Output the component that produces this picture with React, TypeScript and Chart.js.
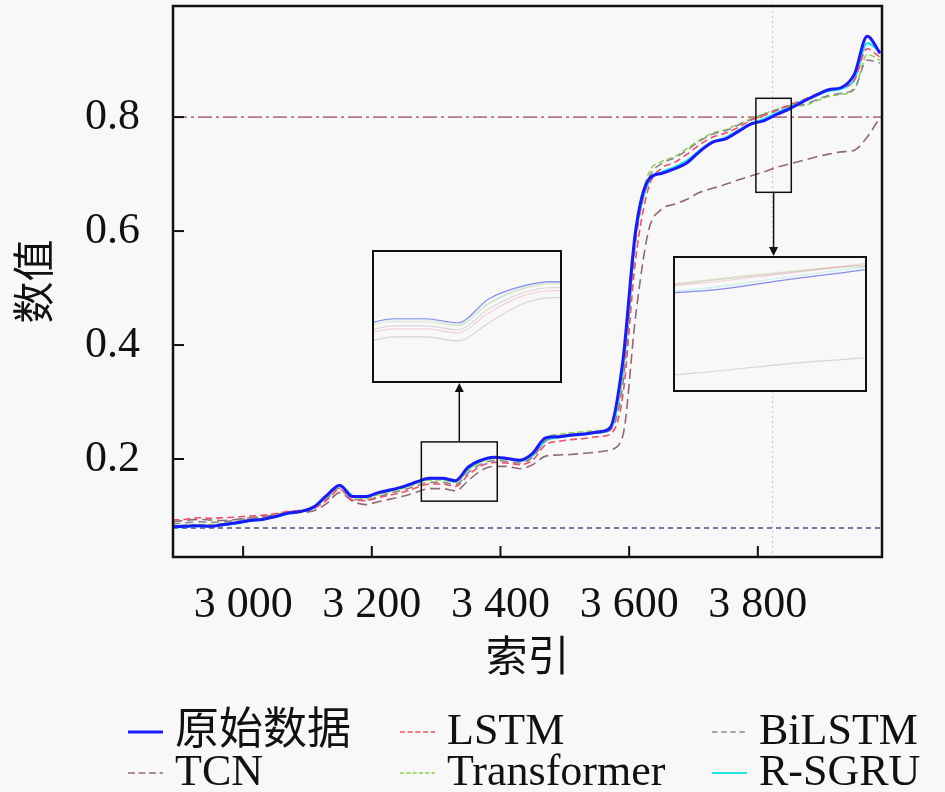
import React, { useEffect, useRef } from 'react';
import { Chart, registerables } from 'chart.js';

Chart.register(...registerables);

// 索引 (sample index), every 20 steps
const indices = [
  2890, 2910, 2930, 2950, 2970, 2990, 3010, 3030, 3050, 3070,
  3090, 3110, 3130, 3150, 3170, 3190, 3210, 3230, 3250, 3270,
  3290, 3310, 3330, 3350, 3370, 3390, 3410, 3430, 3450, 3470,
  3490, 3510, 3530, 3550, 3570, 3590, 3610, 3630, 3650, 3670,
  3690, 3710, 3730, 3750, 3770, 3790, 3810, 3830, 3850, 3870,
  3890, 3910, 3930, 3950, 3970, 3990,
];

const original = [
  0.081, 0.082, 0.083, 0.082, 0.085, 0.088, 0.092, 0.094, 0.099, 0.105,
  0.108, 0.116, 0.136, 0.154, 0.134, 0.134, 0.141, 0.146, 0.152, 0.160,
  0.166, 0.166, 0.162, 0.186, 0.198, 0.203, 0.201, 0.198, 0.210, 0.237,
  0.239, 0.242, 0.244, 0.247, 0.254, 0.370, 0.600, 0.690, 0.701, 0.709,
  0.720, 0.740, 0.756, 0.762, 0.775, 0.788, 0.794, 0.805, 0.815, 0.827,
  0.838, 0.848, 0.852, 0.875, 0.942, 0.912,
];

const lstm = [
  0.093, 0.094, 0.097, 0.096, 0.097, 0.098, 0.100, 0.101, 0.104, 0.108,
  0.110, 0.113, 0.128, 0.147, 0.128, 0.127, 0.132, 0.137, 0.142, 0.150,
  0.156, 0.156, 0.152, 0.172, 0.188, 0.194, 0.193, 0.190, 0.198, 0.225,
  0.231, 0.234, 0.236, 0.239, 0.243, 0.310, 0.550, 0.675, 0.710, 0.720,
  0.735, 0.752, 0.765, 0.772, 0.782, 0.795, 0.803, 0.812, 0.822, 0.830,
  0.840, 0.848, 0.852, 0.865, 0.920, 0.905,
];

const bilstm = [
  0.086, 0.088, 0.090, 0.089, 0.090, 0.093, 0.096, 0.098, 0.102, 0.107,
  0.109, 0.114, 0.130, 0.149, 0.130, 0.128, 0.134, 0.140, 0.146, 0.153,
  0.159, 0.159, 0.155, 0.176, 0.191, 0.197, 0.196, 0.193, 0.203, 0.232,
  0.238, 0.241, 0.243, 0.246, 0.250, 0.330, 0.580, 0.690, 0.718, 0.728,
  0.742, 0.758, 0.770, 0.776, 0.786, 0.796, 0.805, 0.813, 0.820, 0.822,
  0.830, 0.838, 0.842, 0.850, 0.900, 0.895,
];

const tcn = [
  0.090, 0.092, 0.094, 0.093, 0.092, 0.094, 0.097, 0.099, 0.102, 0.104,
  0.106, 0.109, 0.122, 0.141, 0.126, 0.120, 0.125, 0.130, 0.135, 0.142,
  0.148, 0.148, 0.144, 0.162, 0.180, 0.187, 0.187, 0.183, 0.190, 0.205,
  0.207, 0.208, 0.210, 0.212, 0.216, 0.240, 0.450, 0.600, 0.638, 0.647,
  0.656, 0.668, 0.675, 0.682, 0.690, 0.697, 0.704, 0.712, 0.718, 0.724,
  0.730, 0.735, 0.739, 0.742, 0.765, 0.800,
];

const transformer = [
  0.083, 0.084, 0.085, 0.085, 0.087, 0.090, 0.094, 0.097, 0.101, 0.107,
  0.110, 0.117, 0.134, 0.153, 0.134, 0.131, 0.137, 0.143, 0.149, 0.157,
  0.163, 0.163, 0.159, 0.181, 0.195, 0.201, 0.200, 0.197, 0.207, 0.238,
  0.243, 0.246, 0.248, 0.250, 0.256, 0.350, 0.600, 0.700, 0.722, 0.730,
  0.745, 0.760, 0.772, 0.778, 0.788, 0.797, 0.806, 0.814, 0.820, 0.820,
  0.828, 0.836, 0.840, 0.848, 0.910, 0.900,
];

const rsgru = [
  0.080, 0.081, 0.082, 0.082, 0.084, 0.087, 0.091, 0.094, 0.098, 0.104,
  0.108, 0.115, 0.134, 0.153, 0.136, 0.133, 0.140, 0.145, 0.151, 0.159,
  0.165, 0.165, 0.160, 0.182, 0.196, 0.202, 0.201, 0.197, 0.206, 0.232,
  0.238, 0.241, 0.243, 0.246, 0.251, 0.350, 0.590, 0.685, 0.703, 0.712,
  0.724, 0.742, 0.757, 0.764, 0.777, 0.789, 0.797, 0.808, 0.818, 0.829,
  0.838, 0.846, 0.850, 0.865, 0.930, 0.915,
];

const xTicks = [3000, 3200, 3400, 3600, 3800];
const xTickLabels = ['3 000', '3 200', '3 400', '3 600', '3 800'];
const yTicks = [0.2, 0.4, 0.6, 0.8];
const yTickLabels = ['0.2', '0.4', '0.6', '0.8'];

const xRange = [2891, 3993];
const yRange = [0.028, 0.995];

// reference lines seen across the plot
const upperLevel = [0.8, 0.8];
const lowerLevel = [0.079, 0.079];
const markerIndex = 3823;

// zoomed windows: [x0, x1, y0, y1]
const zoomA = [3277, 3395, 0.126, 0.23];
const zoomB = [3797, 3852, 0.668, 0.833];
const insetAView = [3277, 3395, 0.104, 0.2325];
const insetBView = [3798, 3852, 0.683, 0.829];

const FONT = '"Liberation Serif", "Noto Sans CJK SC", serif';
const BG = '#f8f8f8';

const insetABox = { left: 372, top: 250, width: 190, height: 133 };
const insetBBox = { left: 673, top: 256, width: 194, height: 136 };

const seriesDefs = [
  { label: '原始数据', data: original, color: '#1a1aff', width: 3, dash: [] as number[], faint: 'rgba(90,90,230,0.7)' },
  { label: 'LSTM', data: lstm, color: '#ee4f6c', width: 1.6, dash: [7, 4], faint: 'rgba(230,120,140,0.3)' },
  { label: 'BiLSTM', data: bilstm, color: '#8a8a8a', width: 1.6, dash: [8, 5], faint: 'rgba(150,150,150,0.3)' },
  { label: 'TCN', data: tcn, color: '#8f6a72', width: 1.6, dash: [10, 5], faint: 'rgba(150,130,135,0.3)' },
  { label: 'Transformer', data: transformer, color: '#8fd14f', width: 1.5, dash: [6, 3], faint: 'rgba(190,200,120,0.35)' },
  { label: 'R-SGRU', data: rsgru, color: '#22e6e6', width: 2.2, dash: [] as number[], faint: 'rgba(120,220,220,0.35)' },
];

const toPoints = (vals: number[]) => indices.map((x, i) => ({ x, y: vals[i] }));

const legendCols = [128, 400, 712];
const legendRows = [732, 773];

const arrow = (ctx: CanvasRenderingContext2D, x: number, y0: number, y1: number) => {
  const dir = y1 > y0 ? 1 : -1;
  ctx.beginPath();
  ctx.moveTo(x, y0);
  ctx.lineTo(x, y1 - dir * 7);
  ctx.stroke();
  ctx.beginPath();
  ctx.moveTo(x, y1);
  ctx.lineTo(x - 4.5, y1 - dir * 9);
  ctx.lineTo(x + 4.5, y1 - dir * 9);
  ctx.closePath();
  ctx.fill();
};

const decorPlugin = {
  id: 'decor',
  beforeDatasetsDraw(chart: any) {
    const { ctx, chartArea: a, scales } = chart;
    const px = scales.x.getPixelForValue(markerIndex);
    ctx.save();
    ctx.strokeStyle = '#c4c4c4';
    ctx.lineWidth = 1;
    ctx.setLineDash([2, 3]);
    ctx.beginPath();
    ctx.moveTo(px, a.top);
    ctx.lineTo(px, a.bottom);
    ctx.stroke();
    ctx.restore();
  },
  afterDraw(chart: any) {
    const { ctx, chartArea: a, scales } = chart;
    const { x, y } = scales;
    ctx.save();
    ctx.strokeStyle = '#111';
    ctx.fillStyle = '#111';
    ctx.lineWidth = 2.5;
    ctx.strokeRect(a.left, a.top, a.right - a.left, a.bottom - a.top);

    ctx.lineWidth = 2;
    xTicks.forEach((v) => {
      const p = x.getPixelForValue(v);
      ctx.beginPath();
      ctx.moveTo(p, a.bottom);
      ctx.lineTo(p, a.bottom - 11);
      ctx.stroke();
    });
    yTicks.forEach((v) => {
      const p = y.getPixelForValue(v);
      ctx.beginPath();
      ctx.moveTo(a.left, p);
      ctx.lineTo(a.left + 11, p);
      ctx.stroke();
    });

    // source rectangles of the two insets
    ctx.lineWidth = 1.5;
    const boxes = [zoomA, zoomB].map((z) => {
      const l = x.getPixelForValue(z[0]);
      const r = x.getPixelForValue(z[1]);
      const t = y.getPixelForValue(z[3]);
      const b = y.getPixelForValue(z[2]);
      ctx.strokeRect(l, t, r - l, b - t);
      return { cx: (l + r) / 2, t, b };
    });
    arrow(ctx, boxes[0].cx, boxes[0].t, insetABox.top + insetABox.height);
    arrow(ctx, boxes[1].cx, boxes[1].b, insetBBox.top);

    // legend
    ctx.font = `44px ${FONT}`;
    ctx.textBaseline = 'middle';
    ctx.textAlign = 'left';
    seriesDefs.forEach((s, i) => {
      const lx = legendCols[i % 3];
      const ly = legendRows[Math.floor(i / 3)];
      ctx.save();
      ctx.strokeStyle = s.color;
      ctx.lineWidth = s.width;
      ctx.setLineDash(s.dash.map((d) => d * 0.7));
      ctx.beginPath();
      ctx.moveTo(lx, ly);
      ctx.lineTo(lx + 35, ly);
      ctx.stroke();
      ctx.restore();
      ctx.fillStyle = '#111';
      ctx.fillText(s.label, lx + 47, ly);
    });
    ctx.restore();
  },
};

const insetFrame = (box: { left: number; top: number; width: number; height: number }) => ({
  position: 'absolute' as const,
  left: box.left,
  top: box.top,
  width: box.width,
  height: box.height,
  border: '2px solid #111',
  boxSizing: 'border-box' as const,
  background: BG,
});

const makeInset = (canvas: HTMLCanvasElement, view: number[]) =>
  new Chart(canvas, {
    type: 'line',
    data: {
      datasets: seriesDefs.map((s) => ({
        data: toPoints(s.data),
        borderColor: s.faint,
        borderWidth: 1.2,
        pointRadius: 0,
        cubicInterpolationMode: 'monotone' as const,
      })),
    },
    options: {
      animation: false,
      responsive: true,
      maintainAspectRatio: false,
      events: [],
      layout: { padding: 0 },
      plugins: { legend: { display: false }, tooltip: { enabled: false } },
      scales: {
        x: { type: 'linear', min: view[0], max: view[1], display: false },
        y: { type: 'linear', min: view[2], max: view[3], display: false },
      },
    },
  });

const App = () => {
  const mainRef = useRef<HTMLCanvasElement>(null);
  const insetARef = useRef<HTMLCanvasElement>(null);
  const insetBRef = useRef<HTMLCanvasElement>(null);

  useEffect(() => {
    const datasets: any[] = seriesDefs.map((s) => ({
      label: s.label,
      data: toPoints(s.data),
      borderColor: s.color,
      borderWidth: s.width,
      borderDash: s.dash,
      pointRadius: 0,
      cubicInterpolationMode: 'monotone',
    }));
    datasets.push(
      {
        label: 'upper',
        data: xRange.map((x, i) => ({ x, y: upperLevel[i] })),
        borderColor: '#b57888',
        borderWidth: 1.6,
        borderDash: [14, 4, 3, 4],
        pointRadius: 0,
      },
      {
        label: 'lower',
        data: xRange.map((x, i) => ({ x, y: lowerLevel[i] })),
        borderColor: '#4d4d80',
        borderWidth: 1.6,
        borderDash: [5, 4],
        pointRadius: 0,
      },
    );

    const tickFont = { family: FONT, size: 44 };
    const titleFont = { family: FONT, size: 42 };

    const chart = new Chart(mainRef.current!, {
      type: 'line',
      data: { datasets },
      options: {
        animation: false,
        responsive: true,
        maintainAspectRatio: false,
        events: [],
        layout: { padding: { left: 0, right: 63, top: 6, bottom: 105 } },
        plugins: { legend: { display: false }, tooltip: { enabled: false } },
        scales: {
          x: {
            type: 'linear',
            min: xRange[0],
            max: xRange[1],
            grid: { display: false, drawTicks: false },
            border: { display: false },
            afterBuildTicks: (s: any) => {
              s.ticks = xTicks.map((v) => ({ value: v }));
            },
            afterFit: (s: any) => {
              s.height = 130;
              s.paddingLeft = 0;
              s.paddingRight = 0;
            },
            ticks: {
              autoSkip: false,
              maxRotation: 0,
              padding: 22,
              color: '#111',
              font: tickFont,
              callback: (v: any) => xTickLabels[xTicks.indexOf(Number(v))],
            },
            title: {
              display: true,
              text: '索引',
              color: '#111',
              font: titleFont,
              padding: { top: 0, bottom: 2 },
            },
          },
          y: {
            type: 'linear',
            min: yRange[0],
            max: yRange[1],
            grid: { display: false, drawTicks: false },
            border: { display: false },
            afterBuildTicks: (s: any) => {
              s.ticks = yTicks.map((v) => ({ value: v }));
            },
            afterFit: (s: any) => {
              s.width = 173;
              s.paddingTop = 0;
              s.paddingBottom = 0;
            },
            ticks: {
              autoSkip: false,
              padding: 33,
              color: '#111',
              font: tickFont,
              callback: (v: any) => yTickLabels[yTicks.indexOf(Number(v))],
            },
            title: {
              display: true,
              text: '数值',
              color: '#111',
              font: titleFont,
              padding: { top: 13, bottom: 0 },
            },
          },
        },
      },
      plugins: [decorPlugin],
    });

    const insetA = makeInset(insetARef.current!, insetAView);
    const insetB = makeInset(insetBRef.current!, insetBView);

    return () => {
      chart.destroy();
      insetA.destroy();
      insetB.destroy();
    };
  }, []);

  return (
    <div style={{ position: 'fixed', left: 0, top: 0, width: 945, height: 792, background: BG }}>
      <canvas ref={mainRef}></canvas>
      <div style={insetFrame(insetABox)}>
        <div style={{ position: 'relative', width: '100%', height: '100%' }}>
          <canvas ref={insetARef}></canvas>
        </div>
      </div>
      <div style={insetFrame(insetBBox)}>
        <div style={{ position: 'relative', width: '100%', height: '100%' }}>
          <canvas ref={insetBRef}></canvas>
        </div>
      </div>
    </div>
  );
};

export default App;
